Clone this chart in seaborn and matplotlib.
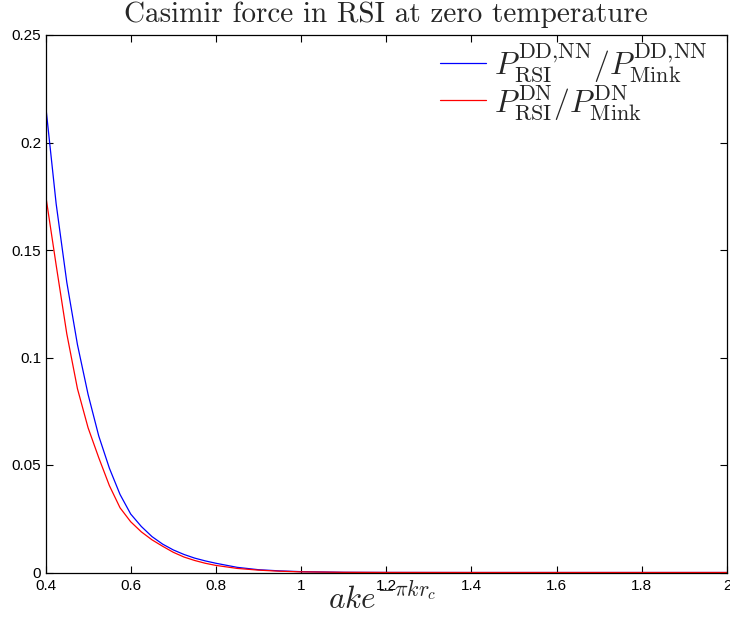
import matplotlib
matplotlib.use("Agg")
import matplotlib.pyplot as plt
import seaborn as sns
import pandas as pd

# ---- data ----
x_vals = [0.40, 0.425, 0.45, 0.475, 0.50, 0.525, 0.55, 0.575, 0.60, 0.625,
          0.65, 0.675, 0.70, 0.725, 0.75, 0.775, 0.80, 0.85, 0.90, 0.95,
          1.00, 1.10, 1.20, 1.40, 1.60, 1.80, 2.00]
blue_vals = [0.218, 0.1715, 0.135, 0.106, 0.0828, 0.0635, 0.0485, 0.0363, 0.0272, 0.0214,
             0.0167, 0.0132, 0.0105, 0.0084, 0.0067, 0.0054, 0.0043, 0.0024, 0.0013, 0.00075,
             0.0004, 0.0001, 0.00003, 0.0, 0.0, 0.0, 0.0]
red_vals = [0.176, 0.143, 0.111, 0.0855, 0.0673, 0.0534, 0.0404, 0.0301, 0.0236, 0.0189,
            0.0152, 0.0122, 0.0094, 0.0072, 0.0056, 0.0043, 0.0033, 0.0019, 0.0011, 0.0006,
            0.0003, 0.00008, 0.00002, 0.0, 0.0, 0.0, 0.0]

series_labels = [r"$P^{\mathrm{DD{,}NN}}_{\mathrm{RSI}}/P^{\mathrm{DD{,}NN}}_{\mathrm{Mink}}$",
                 r"$P^{\mathrm{DN}}_{\mathrm{RSI}}/P^{\mathrm{DN}}_{\mathrm{Mink}}$"]
x_ticks = [0.4, 0.6, 0.8, 1.0, 1.2, 1.4, 1.6, 1.8, 2.0]
x_tick_labels = ["0.4", "0.6", "0.8", "1", "1.2", "1.4", "1.6", "1.8", "2"]
y_ticks = [0, 0.05, 0.10, 0.15, 0.20, 0.25]
y_tick_labels = ["0", "0.05", "0.1", "0.15", "0.2", "0.25"]
title = "Casimir force in RSI at zero temperature"
xlabel = r"$ake^{-\pi kr_c}$"

df = pd.DataFrame({
    "x": x_vals * 2,
    "y": blue_vals + red_vals,
    "series": [series_labels[0]] * len(x_vals) + [series_labels[1]] * len(x_vals),
})

sns.set_style("ticks")
plt.rcParams["font.family"] = ["Liberation Sans", "DejaVu Sans"]
plt.rcParams["mathtext.fontset"] = "cm"

fig = plt.figure(figsize=(7.3, 6.23), dpi=100)
ax = fig.add_axes([45.5 / 730, 1 - 572.5 / 623, (727 - 45.5) / 730, (572.5 - 35) / 623])

sns.lineplot(data=df, x="x", y="y", hue="series", palette=["#0000ff", "#ff0000"],
             linewidth=0.9, ax=ax, legend=False)

ax.set_xlim(0.4, 2.0)
ax.set_ylim(0, 0.25)
ax.set_xticks(x_ticks)
ax.set_xticklabels(x_tick_labels)
ax.set_yticks(y_ticks)
ax.set_yticklabels(y_tick_labels)
ax.tick_params(direction="in", length=5, width=0.8, top=True, right=True,
               labelsize=11, colors="black")
ax.tick_params(axis="x", pad=5)
ax.tick_params(axis="y", pad=3)
for s in ax.spines.values():
    s.set_visible(True)
    s.set_linewidth(0.9)
    s.set_color("black")

ax.set_ylabel("")
ax.set_xlabel(xlabel, fontsize=22.5)
ax.xaxis.set_label_coords(0.494, -0.022)

ax.set_title(title, fontfamily="cmr10", fontsize=21, pad=9)

lines = ax.get_lines()
leg = ax.legend(lines[:2], series_labels, loc="upper right",
                bbox_to_anchor=(0.971, 0.988), frameon=False, fontsize=22.8,
                handlelength=1.45, handletextpad=0.25, labelspacing=-0.05,
                borderaxespad=0, borderpad=0)

fig.savefig("out.png", dpi=100)
